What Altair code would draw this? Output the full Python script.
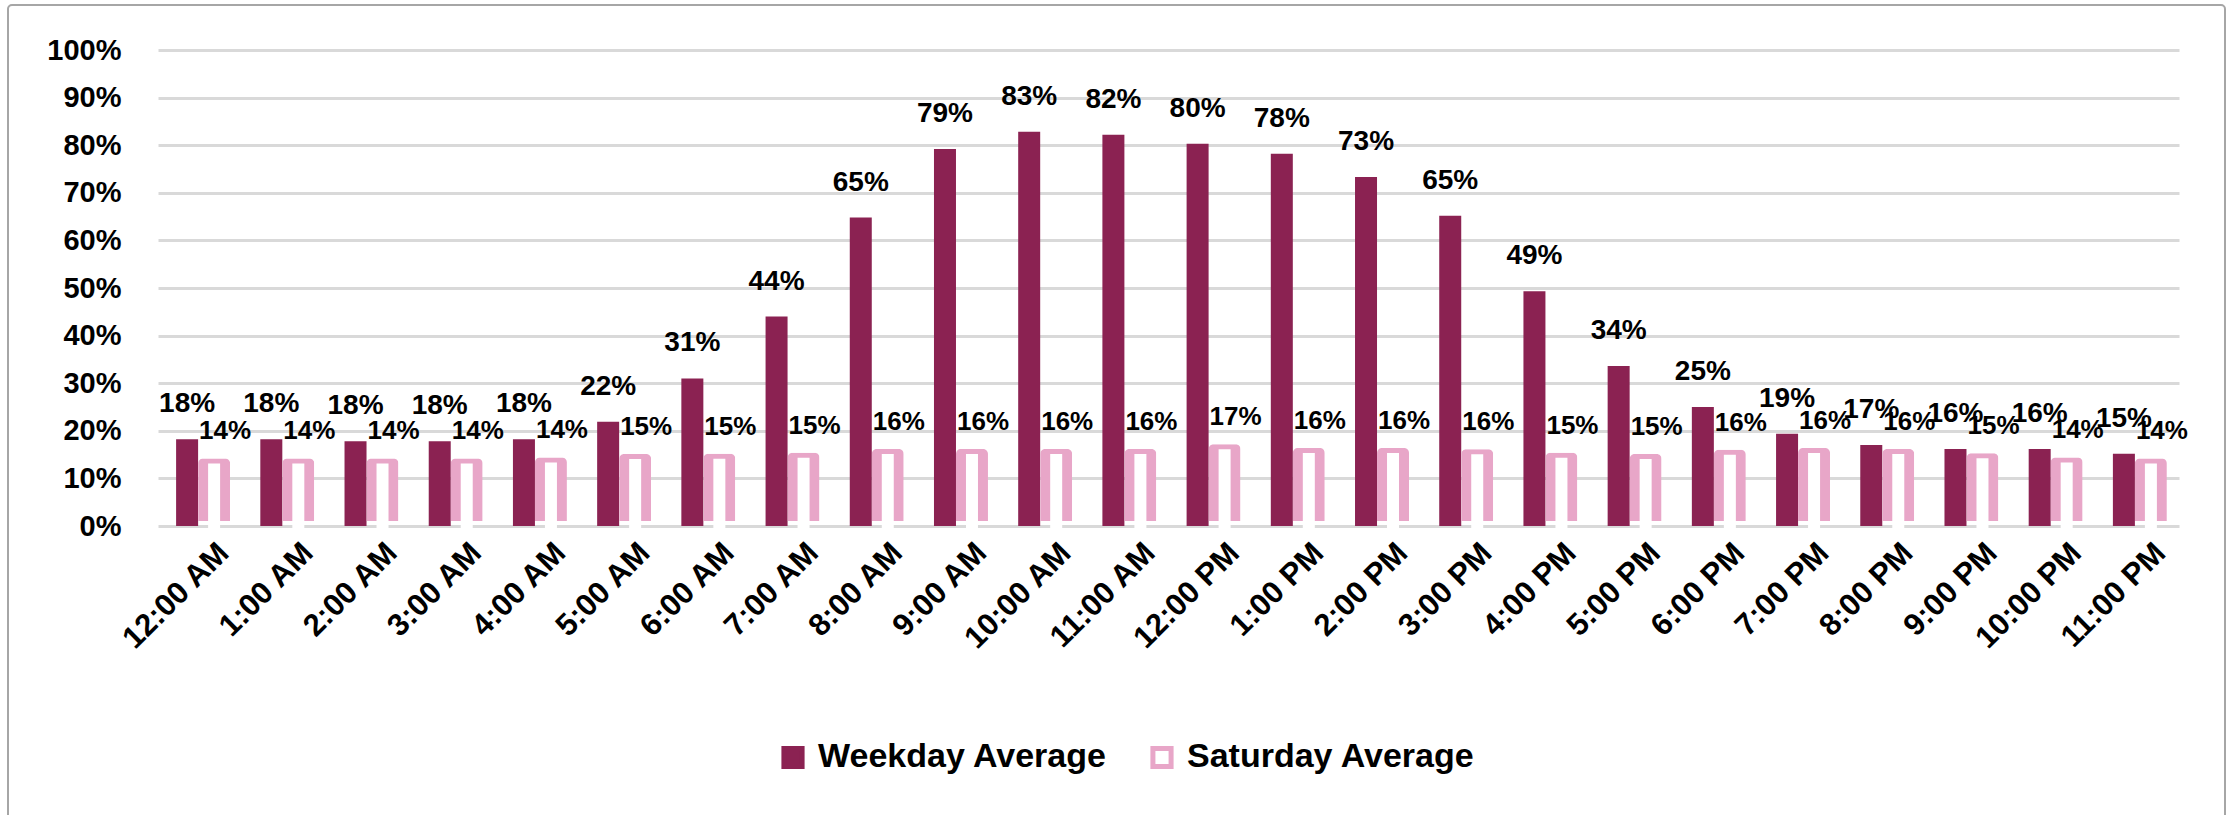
import altair as alt
import pandas as pd

hours = ["12:00 AM", "1:00 AM", "2:00 AM", "3:00 AM", "4:00 AM", "5:00 AM",
         "6:00 AM", "7:00 AM", "8:00 AM", "9:00 AM", "10:00 AM", "11:00 AM",
         "12:00 PM", "1:00 PM", "2:00 PM", "3:00 PM", "4:00 PM", "5:00 PM",
         "6:00 PM", "7:00 PM", "8:00 PM", "9:00 PM", "10:00 PM", "11:00 PM"]
weekday = [0.182, 0.182, 0.178, 0.178, 0.182, 0.219, 0.310, 0.440, 0.648, 0.792,
           0.828, 0.822, 0.803, 0.782, 0.733, 0.652, 0.493, 0.336, 0.250, 0.194,
           0.170, 0.162, 0.162, 0.152]
saturday = [0.142, 0.142, 0.142, 0.142, 0.144, 0.151, 0.152, 0.154, 0.162, 0.162,
            0.162, 0.162, 0.172, 0.164, 0.164, 0.161, 0.154, 0.151, 0.160, 0.164,
            0.162, 0.153, 0.144, 0.142]
series = ["Weekday Average", "Saturday Average"]

DARK = "#8B2252"
PINK = "#E8A6C8"
FONT = "Liberation Sans, Arial, sans-serif"

wk = pd.DataFrame({"hour": hours, "v": weekday})
sa = pd.DataFrame({"hour": hours, "v": saturday})
leg = pd.DataFrame({"hour": [hours[0]] * 2, "v": [0, 0], "series": series})

W, H = 2021, 476

x = alt.X("hour:N", sort=hours,
          scale=alt.Scale(paddingInner=0, paddingOuter=0),
          axis=alt.Axis(title=None, domain=False, ticks=False, labelAngle=-45,
                        labelAlign="right", labelBaseline="middle",
                        labelFont=FONT, labelFontSize=31, labelFontWeight="bold",
                        labelColor="black", labelPadding=22, labelOffset=24))
y = alt.Y("v:Q", scale=alt.Scale(domain=[0, 1], nice=False),
          axis=alt.Axis(title=None, domain=False, ticks=False, format=".0%",
                        values=[i / 10 for i in range(11)],
                        grid=True, gridColor="#D9D9D9", gridWidth=3,
                        labelFont=FONT, labelFontSize=29, labelFontWeight="bold",
                        labelColor="black", labelPadding=37))

wk_bar = alt.Chart(wk).mark_bar(width=22, xOffset=-13, color=DARK).encode(x=x, y=y)
sa_outer = alt.Chart(sa).mark_bar(width=32, xOffset=14, yOffset=-5, color=PINK,
                                  cornerRadiusTopLeft=5, cornerRadiusTopRight=5).encode(x=x, y=y)
sa_inner = alt.Chart(sa).mark_bar(width=12, xOffset=14, yOffset=5, color="white").encode(x=x, y=y)

wk_txt = alt.Chart(wk).mark_text(dx=-13, dy=-27, baseline="alphabetic", font=FONT,
                                 fontSize=28, fontWeight="bold", color="black").encode(
    x=x, y=y, text=alt.Text("v:Q", format=".0%"))
sa_txt = alt.Chart(sa).mark_text(dx=25, dy=-19, baseline="alphabetic", font=FONT,
                                 fontSize=26, fontWeight="bold", color="black").encode(
    x=x, y=y, text=alt.Text("v:Q", format=".0%"))

legend = alt.Legend(title=None, orient="none", direction="horizontal",
                    legendX=618, legendY=690, symbolType="square", symbolSize=330,
                    symbolStrokeWidth=5, symbolOpacity=1, labelFont=FONT,
                    labelFontSize=34, labelFontWeight="bold", labelColor="black",
                    labelOffset=8, columnPadding=34, labelLimit=0)
leg_pts = alt.Chart(leg).mark_point(shape="square", filled=True, opacity=0).encode(
    x=x, y=y,
    fill=alt.Fill("series:N", sort=series, scale=alt.Scale(domain=series, range=[DARK, "white"]), legend=legend),
    stroke=alt.Stroke("series:N", sort=series, scale=alt.Scale(domain=series, range=[DARK, PINK]), legend=legend),
)

border = alt.Chart(pd.DataFrame({"a": [0]})).mark_rect(
    fillOpacity=0, stroke="#A6A6A6", strokeWidth=2, cornerRadius=4).encode(
    x=alt.value(-150), x2=alt.value(2067), y=alt.value(-45), y2=alt.value(790))

chart = alt.layer(border, wk_bar, sa_outer, sa_inner, wk_txt, sa_txt, leg_pts).properties(
    width=W, height=H,
    autosize=alt.AutoSizeParams(type="none"),
    padding={"left": 158, "top": 50, "right": 53, "bottom": 289},
    background="white",
).configure_view(stroke=None)

chart.save("out.html", embed_options={"renderer": "svg", "actions": False})
